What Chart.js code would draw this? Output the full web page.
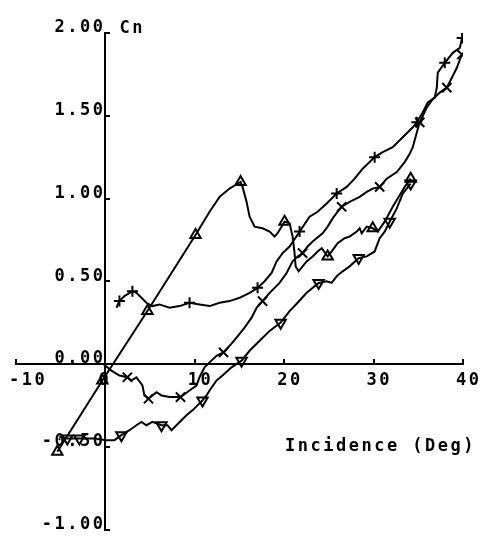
<!DOCTYPE html>
<html>
<head>
<meta charset="utf-8">
<script src="https://cdn.jsdelivr.net/npm/chart.js@4.4.1/dist/chart.umd.min.js"></script>
<style>
  html, body { margin: 0; padding: 0; background: #fff; }
  #wrap { width: 482px; height: 538px; }
</style>
</head>
<body>
<div id="wrap"><canvas id="c" width="482" height="538"></canvas></div>
<script>
// Normal-force coefficient Cn against incidence, four runs

// axis ticks
const xTicks = [-10, 0, 10, 20, 30, 40];
const yTicks = [-1.0, -0.5, 0.0, 0.5, 1.0, 1.5, 2.0];

// run drawn with upright triangles
const triX = [-5.38, -0.34, 4.70, 10.08, 11.65, 12.77, 13.89, 15.12, 15.34, 15.79, 16.13, 16.69, 17.58, 18.37, 18.92, 19.26, 20.04, 20.60, 20.94, 21.16, 21.28, 21.61, 22.06, 22.51, 23.18, 23.74, 24.19, 24.86, 25.31, 25.98, 26.76, 27.32, 28.11, 28.44, 28.67, 29.23, 29.90, 30.46, 31.24, 32.14, 32.92, 33.48, 34.15];
const triY = [-0.53, -0.10, 0.32, 0.78, 0.92, 1.01, 1.06, 1.10, 1.07, 0.98, 0.89, 0.83, 0.82, 0.80, 0.77, 0.79, 0.86, 0.85, 0.77, 0.67, 0.59, 0.56, 0.59, 0.62, 0.65, 0.68, 0.70, 0.65, 0.68, 0.73, 0.76, 0.77, 0.80, 0.82, 0.79, 0.83, 0.82, 0.80, 0.86, 0.95, 1.02, 1.07, 1.12];
const triMarks = [0, 1, 2, 3, 7, 16, 27, 36, 42];

// run drawn with inverted triangles
const invX = [-5.15, -4.26, -2.91, -1.23, 0.11, 1.01, 1.79, 2.69, 3.47, 4.03, 4.59, 5.26, 6.27, 6.94, 7.39, 7.95, 8.51, 9.07, 9.74, 10.86, 11.31, 11.65, 12.43, 13.10, 14.11, 15.23, 16.13, 17.25, 18.37, 19.60, 20.60, 21.50, 22.51, 23.85, 24.75, 25.31, 25.87, 26.54, 27.32, 28.33, 29.23, 30.12, 30.68, 31.24, 31.80, 32.59, 33.26, 34.15];
const invY = [-0.44, -0.45, -0.45, -0.45, -0.46, -0.46, -0.43, -0.40, -0.37, -0.35, -0.37, -0.35, -0.37, -0.37, -0.40, -0.37, -0.34, -0.31, -0.28, -0.22, -0.19, -0.16, -0.10, -0.07, -0.02, 0.02, 0.08, 0.14, 0.20, 0.25, 0.32, 0.37, 0.43, 0.49, 0.50, 0.49, 0.53, 0.56, 0.59, 0.64, 0.65, 0.68, 0.76, 0.80, 0.86, 0.94, 1.03, 1.09];
const invMarks = [1, 2, 6, 12, 19, 25, 29, 33, 39, 44, 47];

// run drawn with diagonal crosses
const crossX = [-0.22, 0.67, 1.57, 2.46, 2.91, 3.47, 4.14, 4.37, 4.82, 5.71, 6.27, 7.17, 8.40, 9.41, 10.19, 10.53, 11.09, 11.65, 12.43, 13.21, 13.89, 14.67, 15.57, 16.35, 16.91, 17.58, 18.37, 19.48, 20.27, 20.94, 21.50, 22.06, 22.62, 23.18, 24.30, 24.86, 25.42, 25.98, 26.43, 27.32, 28.44, 29.23, 29.90, 30.68, 31.47, 32.59, 33.48, 34.04, 34.38, 34.94, 35.16, 35.95, 36.62, 37.40, 38.19, 38.75, 39.31, 39.87];
const crossY = [0.00, -0.04, -0.07, -0.08, -0.10, -0.08, -0.13, -0.19, -0.21, -0.17, -0.19, -0.20, -0.20, -0.16, -0.13, -0.08, -0.02, 0.01, 0.05, 0.07, 0.11, 0.16, 0.22, 0.28, 0.34, 0.38, 0.43, 0.49, 0.55, 0.62, 0.65, 0.67, 0.71, 0.74, 0.79, 0.83, 0.88, 0.92, 0.95, 0.98, 1.01, 1.04, 1.06, 1.07, 1.12, 1.16, 1.22, 1.27, 1.31, 1.42, 1.46, 1.55, 1.60, 1.64, 1.67, 1.73, 1.79, 1.87];
const crossMarks = [3, 8, 12, 19, 25, 31, 38, 43, 50, 54, 57];

// run drawn with plus signs
const plusX = [1.23, 1.57, 2.13, 3.02, 3.47, 4.03, 4.59, 5.26, 6.05, 7.17, 8.29, 9.41, 10.53, 11.65, 12.77, 13.89, 15.01, 16.13, 17.02, 17.81, 18.59, 19.15, 19.82, 20.60, 21.72, 22.84, 23.74, 24.75, 25.87, 26.99, 27.88, 28.78, 30.12, 31.02, 32.14, 33.26, 34.38, 34.83, 35.39, 36.06, 36.84, 37.07, 37.18, 37.96, 38.86, 39.64, 39.90];
const plusY = [0.34, 0.38, 0.41, 0.44, 0.43, 0.40, 0.37, 0.35, 0.36, 0.34, 0.35, 0.37, 0.36, 0.35, 0.37, 0.38, 0.40, 0.43, 0.46, 0.50, 0.55, 0.62, 0.67, 0.71, 0.80, 0.89, 0.92, 0.97, 1.03, 1.07, 1.12, 1.18, 1.25, 1.28, 1.31, 1.37, 1.43, 1.46, 1.51, 1.58, 1.61, 1.67, 1.76, 1.82, 1.88, 1.91, 1.97];
const plusMarks = [1, 3, 11, 18, 24, 28, 32, 37, 43, 46];

const INK = '#000';
const FONT = '"DejaVu Sans Mono", "Liberation Mono", monospace';
const FONT_SIZE = 17;

function points(xs, ys) {
  return xs.map((x, i) => ({ x, y: ys[i] }));
}

function series(xs, ys, marks, style, radius, rotation) {
  const r = ctx => (marks.includes(ctx.dataIndex) ? radius : 0);
  return {
    data: points(xs, ys),
    showLine: true,
    borderColor: INK,
    borderWidth: 2,
    tension: 0,
    fill: false,
    pointStyle: style,
    pointRotation: rotation || 0,
    pointRadius: r,
    pointHoverRadius: r,
    pointBorderColor: INK,
    pointBackgroundColor: 'rgba(0,0,0,0)',
    pointBorderWidth: 2
  };
}

// plotter-style lettering: wide monospace with extra tracking, plus the two axis captions
const lettering = {
  id: 'lettering',
  beforeDraw(chart) {
    chart.ctx.letterSpacing = '2.5px';
  },
  afterDraw(chart) {
    const { ctx, chartArea, scales } = chart;
    ctx.save();
    ctx.fillStyle = INK;
    ctx.font = 'bold ' + FONT_SIZE + 'px ' + FONT;
    ctx.textAlign = 'left';
    ctx.textBaseline = 'alphabetic';
    ctx.fillText('Cn', scales.x.getPixelForValue(0) + 14, chartArea.top);
    ctx.fillText('Incidence (Deg)', chartArea.right - 178, scales.y.getPixelForValue(-0.525));
    ctx.restore();
    chart.ctx.letterSpacing = '0px';
  }
};

const tickFont = { family: FONT, size: FONT_SIZE, weight: 'bold' };

new Chart(document.getElementById('c'), {
  type: 'scatter',
  data: {
    datasets: [
      series(triX, triY, triMarks, 'triangle', 6, 0),
      series(invX, invY, invMarks, 'triangle', 6, 180),
      series(crossX, crossY, crossMarks, 'crossRot', 6.5, 0),
      series(plusX, plusY, plusMarks, 'cross', 5.5, 0)
    ]
  },
  options: {
    responsive: false,
    animation: false,
    devicePixelRatio: 1,
    layout: { padding: { left: 16, right: 19, top: 33, bottom: 3 } },
    plugins: { legend: { display: false }, tooltip: { enabled: false } },
    events: [],
    scales: {
      x: {
        type: 'linear',
        position: { y: 0 },
        min: xTicks[0],
        max: xTicks[xTicks.length - 1],
        afterBuildTicks: s => { s.ticks = xTicks.map(v => ({ value: v })); },
        afterFit: s => { s.paddingLeft = 0; s.paddingRight = 0; s.paddingTop = 0; s.paddingBottom = 0; },
        border: { display: true, color: INK, width: 2 },
        grid: { display: true, drawOnChartArea: false, drawTicks: true, tickLength: -6, color: INK, lineWidth: 2 },
        ticks: {
          color: INK,
          font: tickFont,
          align: 'start',
          labelOffset: -7,
          padding: 12,
          maxRotation: 0,
          autoSkip: false,
          callback: v => String(v)
        }
      },
      y: {
        type: 'linear',
        position: { x: 0 },
        min: yTicks[0],
        max: yTicks[yTicks.length - 1],
        afterBuildTicks: s => { s.ticks = yTicks.map(v => ({ value: v })); },
        afterFit: s => { s.paddingLeft = 0; s.paddingRight = 0; s.paddingTop = 0; s.paddingBottom = 0; },
        border: { display: true, color: INK, width: 2 },
        grid: { display: true, drawOnChartArea: false, drawTicks: true, tickLength: -6, color: INK, lineWidth: 2 },
        ticks: {
          color: INK,
          font: tickFont,
          labelOffset: -5,
          autoSkip: false,
          callback: v => Number(v).toFixed(2)
        }
      }
    }
  },
  plugins: [lettering]
});
</script>
</body>
</html>
